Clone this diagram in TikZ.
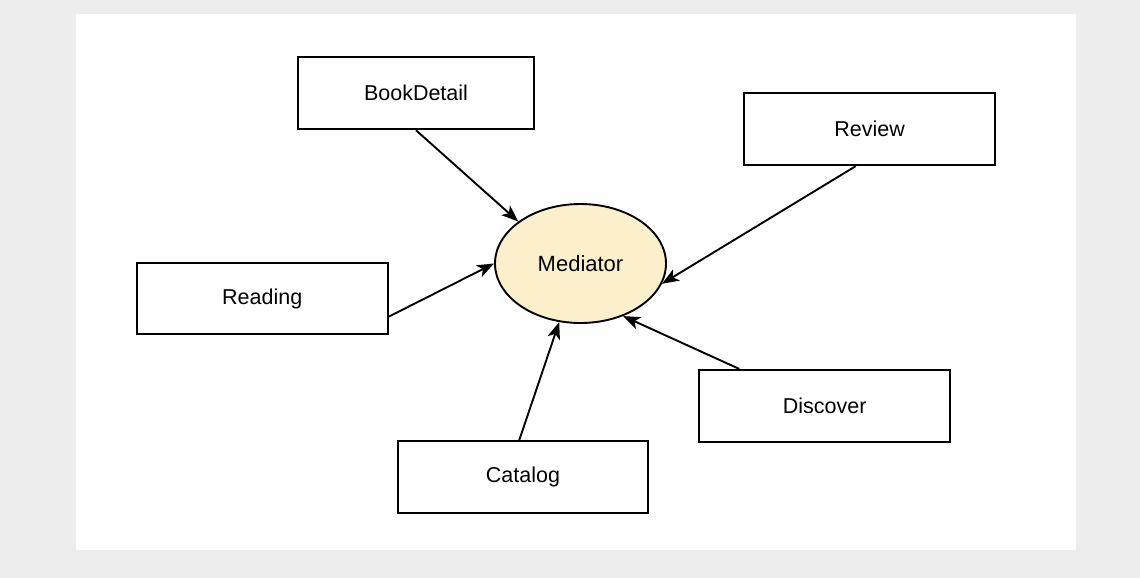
\documentclass[tikz,border=0pt]{standalone}
\usepackage{fontspec}
\setmainfont{Liberation Sans}
\usetikzlibrary{arrows.meta,calc,shapes.geometric}
\definecolor{bggray}{HTML}{EDEDED}
\definecolor{medfill}{HTML}{FCF0CC}
\tikzset{
  box/.style={draw=black, line width=1.9pt, fill=white, inner sep=0pt, minimum height=72pt,
    font=\fontsize{21.5}{25}\selectfont},
  medstyle/.style={ellipse, draw=black, line width=1.9pt, fill=medfill, inner sep=0pt,
    minimum width=171pt, minimum height=119pt, font=\fontsize{22}{26}\selectfont},
  conn/.style={line width=1.9pt, -{Stealth[length=17pt,width=13pt,inset=4.5pt]}}
}
\begin{document}
\begin{tikzpicture}[x=1pt,y=-1pt]
  \fill[bggray] (0,0) rectangle (1140,578);
  \useasboundingbox (0,0) rectangle (1140,578);
  \fill[white] (76,14) rectangle (1076,550);

  \node[medstyle] (med) at (580.5,263.5) {Mediator};
  \node[box, minimum width=236pt] (bd) at (416,93.3) {BookDetail};
  \node[box, minimum width=250.7pt] (rev) at (869.6,129.2) {Review};
  \node[box, minimum width=251pt, minimum height=71pt] (rd) at (262.2,298.8) {Reading};
  \node[box, minimum width=250.6pt] (cat) at (523,477.2) {Catalog};
  \node[box, minimum width=250.7pt] (dis) at (824.7,405.9) {Discover};

  \draw[conn] (bd.south) -- (med.146.4);
  \draw[conn] ($(rev.south west)!0.445!(rev.south east)$) -- (med.-14.6);
  \draw[conn] ($(rd.east)+(0,17.9)$) -- (med.west);
  \draw[conn] ($(cat.north west)!0.485!(cat.north east)$) -- (med.250.4);
  \draw[conn] ($(dis.north west)!0.162!(dis.north east)$) -- (med.-51.8);
\end{tikzpicture}
\end{document}
